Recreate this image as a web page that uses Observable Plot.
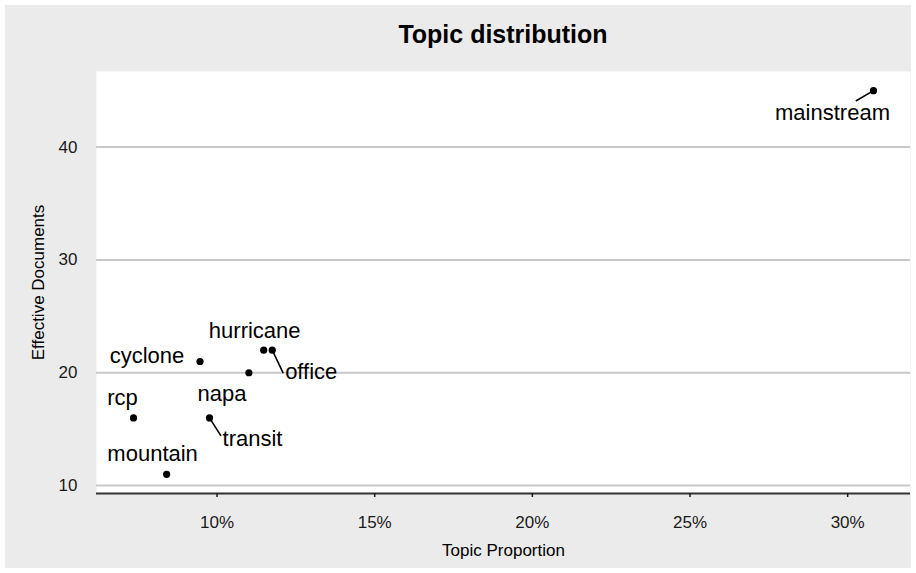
<!DOCTYPE html>
<html>
<head>
<meta charset="utf-8">
<script src="https://cdn.jsdelivr.net/npm/d3@7"></script>
<script src="https://cdn.jsdelivr.net/npm/@observablehq/plot@0.6"></script>
<style>
  html, body { margin: 0; padding: 0; background: #ffffff; }
  body { font-family: "Liberation Sans", Arial, sans-serif; width: 916px; height: 573px; position: relative; overflow: hidden; }
  #card { position: absolute; left: 5px; top: 5px; width: 906px; height: 563px; background: #ebebeb; }
  #title { position: absolute; left: 91px; top: 4px; width: 814px; height: 50px; line-height: 50px; text-align: center;
           font-size: 25px; font-weight: bold; color: #000; }
  #chart { position: absolute; left: 0; top: 50px; }
</style>
</head>
<body>
<div id="card">
  <div id="title">Topic distribution</div>
  <div id="chart"></div>
</div>
<script>
// ---- data ----
const topics = ["mainstream", "hurricane", "office", "cyclone", "napa", "rcp", "transit", "mountain"];
const proportions = [0.3082, 0.1148, 0.1175, 0.0946, 0.1101, 0.0735, 0.0976, 0.0840];
const effectiveDocs = [45, 22, 22, 21, 20, 16, 16, 11];
const xTicks = [0.10, 0.15, 0.20, 0.25, 0.30];
const yTicks = [10, 20, 30, 40];
const xTitle = "Topic Proportion";
const yTitle = "Effective Documents";

// ---- label layout (pixel offsets from each point, like a repel layout) ----
const labelDx = [-41, -9, 39, -53, -27, -11, 43, -14];
const labelDy = [22, -19, 22, -6, 21, -20, 21, -20];
const segDx = [-17.7, null, 11, null, null, null, 11.5, null];
const segDy = [10.3, null, 23, null, null, null, 18, null];

// ---- geometry ----
const W = 906, H = 513, mL = 91, mR = 1, mT = 16, mB = 75;
const expand = (arr) => { const [a, b] = d3.extent(arr); const p = (b - a) * 0.05; return [a - p, b + p]; };
const xDomain = expand(proportions);
const yDomain = expand(effectiveDocs);
const xPx = d3.scaleLinear(xDomain, [mL, W - mR]);
const yPx = d3.scaleLinear(yDomain, [H - mB, mT]);

const rows = topics.map((t, i) => ({topic: t, prop: proportions[i], docs: effectiveDocs[i]}));
const segments = rows
  .map((d, i) => segDx[i] == null ? null : {
    x1: d.prop, y1: d.docs,
    x2: xPx.invert(xPx(d.prop) + segDx[i]),
    y2: yPx.invert(yPx(d.docs) + segDy[i])
  })
  .filter(Boolean);

const chart = Plot.plot({
  width: W, height: H,
  marginLeft: mL, marginRight: mR, marginTop: mT, marginBottom: mB,
  style: {fontFamily: "'Liberation Sans', Arial, sans-serif", fontSize: "17px", background: "transparent", color: "#1a1a1a"},
  x: {domain: xDomain},
  y: {domain: yDomain},
  marks: [
    Plot.frame({fill: "white", stroke: "none"}),
    Plot.ruleY(yTicks, {stroke: "#c8c8c8", strokeWidth: 2}),
    Plot.ruleY([yDomain[0]], {stroke: "#333333", strokeWidth: 2}),
    Plot.axisX({ticks: xTicks, tickFormat: d3.format(".0%"), tickSize: 4, tickPadding: 18, label: null, strokeWidth: 1.5, fontSize: 17}),
    Plot.axisY({ticks: yTicks, tickSize: 0, tickPadding: 19, label: null, fontSize: 17}),
    Plot.link(segments, {x1: "x1", y1: "y1", x2: "x2", y2: "y2", stroke: "black", strokeWidth: 1.6}),
    Plot.dot(rows, {x: "prop", y: "docs", r: 3.6, fill: "black", stroke: "none"}),
    ...rows.map((d, i) => Plot.text([d], {x: "prop", y: "docs", text: "topic", dx: labelDx[i], dy: labelDy[i], fontSize: 22, fill: "black"})),
    Plot.text([xTitle], {text: d => d, frameAnchor: "bottom", textAnchor: "middle", lineAnchor: "middle", dy: 57.5, fontSize: 17, fill: "black"}),
    Plot.text([yTitle], {text: d => d, frameAnchor: "left", textAnchor: "middle", lineAnchor: "middle", rotate: -90, dx: -58, fontSize: 17, fill: "black"})
  ]
});
document.getElementById("chart").appendChild(chart);
</script>
</body>
</html>
